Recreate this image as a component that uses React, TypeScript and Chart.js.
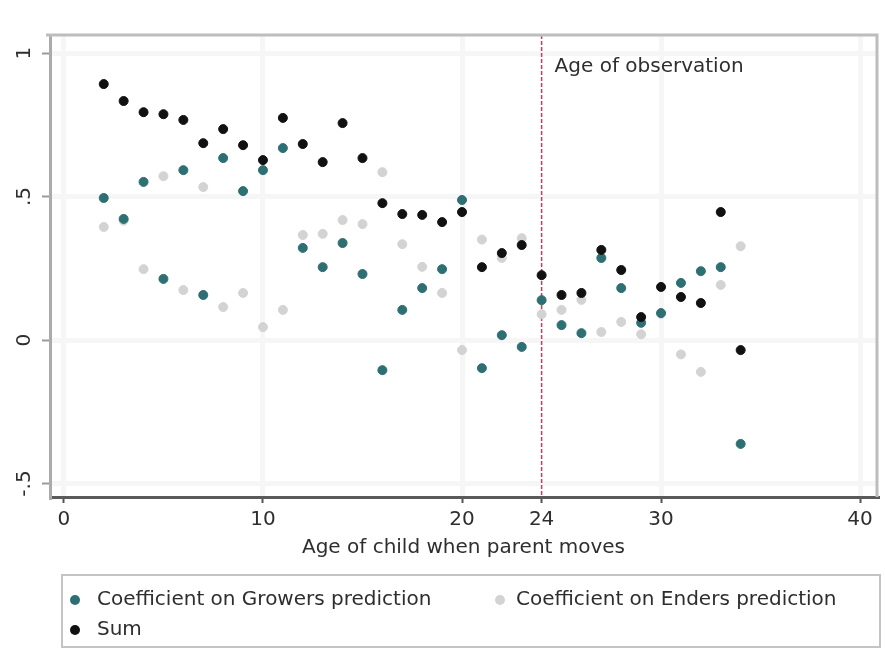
import { useEffect, useRef } from "react";
import { Chart, registerables } from "chart.js";

Chart.register(...registerables);

// Age of child (years) when the parent moves
const AGES = [
  2, 3, 4, 5, 6, 7, 8, 9, 10, 11, 12, 13, 14, 15, 16, 17, 18,
  19, 20, 21, 22, 23, 24, 25, 26, 27, 28, 29, 30, 31, 32, 33, 34,
];

// Coefficient on Growers prediction
const GROWERS = [
  0.495, 0.422, 0.551, 0.213, 0.592, 0.157, 0.634, 0.519, 0.592, 0.669, 0.321,
  0.254, 0.338, 0.23, -0.105, 0.105, 0.181, 0.247, 0.488, -0.098, 0.017, -0.024,
  0.139, 0.052, 0.024, 0.286, 0.181, 0.06, 0.094, 0.199, 0.24, 0.254, -0.362,
];

// Coefficient on Enders prediction
const ENDERS = [
  0.394, 0.416, 0.247, 0.571, 0.174, 0.533, 0.115, 0.164, 0.045, 0.105, 0.366,
  0.37, 0.418, 0.404, 0.585, 0.334, 0.255, 0.164, -0.035, 0.35, 0.286, 0.355,
  0.09, 0.105, 0.14, 0.028, 0.063, 0.02, 0.091, -0.05, -0.111, 0.192, 0.327,
];

// Sum of the two coefficients
const SUM = [
  0.892, 0.833, 0.794, 0.787, 0.767, 0.686, 0.735, 0.679, 0.627, 0.774, 0.683,
  0.62, 0.756, 0.634, 0.477, 0.439, 0.436, 0.411, 0.446, 0.254, 0.303, 0.331,
  0.226, 0.157, 0.164, 0.314, 0.244, 0.08, 0.185, 0.15, 0.129, 0.446, -0.035,
];

const X_TICKS = [0, 10, 20, 24, 30, 40];
const Y_TICKS = [-0.5, 0, 0.5, 1];
const Y_TICK_LABELS = ["-.5", "0", ".5", "1"];
const OBSERVATION_AGE = 24;
const OBSERVATION_LABEL = "Age of observation";
const X_TITLE = "Age of child when parent moves";
const SERIES_NAMES = [
  "Coefficient on Growers prediction",
  "Coefficient on Enders prediction",
  "Sum",
];

const GROWERS_COLOR = "#2d6f72";
const ENDERS_COLOR = "#d3d3d3";
const SUM_COLOR = "#111111";
const TEXT_COLOR = "#2e2e2e";
const GRID_COLOR = "#f6f6f6";
const FONT_FAMILY = "'DejaVu Sans', 'Liberation Sans', sans-serif";
const FONT_SIZE = 20;

const toPoints = (values: number[]) =>
  AGES.map((age, i) => ({ x: age, y: values[i] }));

// Frame, observation-age marker line and the boxed legend
const decorations = {
  id: "decorations",
  beforeDatasetsDraw(chart: any) {
    const { ctx, chartArea, scales } = chart;
    const x = scales.x.getPixelForValue(OBSERVATION_AGE);
    ctx.save();
    ctx.strokeStyle = "#b8435f";
    ctx.lineWidth = 1.5;
    ctx.setLineDash([4, 2]);
    ctx.beginPath();
    ctx.moveTo(x, chartArea.top);
    ctx.lineTo(x, chartArea.bottom);
    ctx.stroke();
    ctx.restore();
  },
  afterDraw(chart: any) {
    const { ctx, chartArea, scales } = chart;
    ctx.save();
    // top and right edges of the plot region
    ctx.strokeStyle = "#bdbdbd";
    ctx.lineWidth = 3;
    ctx.beginPath();
    ctx.moveTo(chartArea.left - 4, chartArea.top);
    ctx.lineTo(chartArea.right, chartArea.top);
    ctx.lineTo(chartArea.right, chartArea.bottom);
    ctx.stroke();

    // note next to the observation-age line
    const x = scales.x.getPixelForValue(OBSERVATION_AGE);
    ctx.font = `${FONT_SIZE}px ${FONT_FAMILY}`;
    ctx.fillStyle = TEXT_COLOR;
    ctx.textAlign = "left";
    ctx.textBaseline = "middle";
    ctx.fillText(OBSERVATION_LABEL, x + 13, chartArea.top + 32);

    // legend box
    const boxLeft = 62;
    const boxTop = 575;
    const boxRight = 880;
    const boxBottom = 647;
    ctx.strokeStyle = "#c4c4c4";
    ctx.lineWidth = 2;
    ctx.strokeRect(boxLeft, boxTop, boxRight - boxLeft, boxBottom - boxTop);

    const items = [
      { name: SERIES_NAMES[0], color: GROWERS_COLOR, mx: 75, tx: 97, y: 600 },
      { name: SERIES_NAMES[1], color: ENDERS_COLOR, mx: 500, tx: 516, y: 600 },
      { name: SERIES_NAMES[2], color: SUM_COLOR, mx: 75, tx: 97, y: 630 },
    ];
    for (const it of items) {
      ctx.fillStyle = it.color;
      ctx.beginPath();
      ctx.arc(it.mx, it.y, 5, 0, Math.PI * 2);
      ctx.fill();
      ctx.fillStyle = TEXT_COLOR;
      ctx.fillText(it.name, it.tx, it.y);
    }
    ctx.restore();
  },
};

export default function App() {
  const canvasRef = useRef<HTMLCanvasElement | null>(null);

  useEffect(() => {
    const canvas = canvasRef.current;
    if (!canvas) return;

    const series = (color: string, order: number, label: string, data: number[]) => ({
      label,
      data: toPoints(data),
      backgroundColor: color,
      borderColor: color,
      borderWidth: 1,
      pointRadius: 4.5,
      pointHoverRadius: 4.5,
      order,
    });

    const chart = new Chart(canvas, {
      type: "scatter",
      data: {
        datasets: [
          series(GROWERS_COLOR, 1, SERIES_NAMES[0], GROWERS),
          series(ENDERS_COLOR, 2, SERIES_NAMES[1], ENDERS),
          series(SUM_COLOR, 0, SERIES_NAMES[2], SUM),
        ],
      },
      options: {
        responsive: false,
        animation: false,
        events: [],
        layout: { padding: { left: 0, top: 35, right: 8, bottom: 90 } },
        plugins: {
          legend: { display: false },
          tooltip: { enabled: false },
        },
        scales: {
          x: {
            type: "linear",
            min: -0.7,
            max: 40.85,
            afterBuildTicks: (scale: any) => {
              scale.ticks = X_TICKS.map((v) => ({ value: v }));
            },
            afterFit: (scale: any) => {
              scale.height = 63;
            },
            ticks: {
              color: TEXT_COLOR,
              font: { family: FONT_FAMILY, size: FONT_SIZE },
              padding: 5,
              maxRotation: 0,
              autoSkip: false,
              callback: (v: any) => String(v),
            },
            grid: {
              color: (c: any) =>
                c.tick && c.tick.value === OBSERVATION_AGE ? "rgba(0,0,0,0)" : GRID_COLOR,
              lineWidth: 5,
              tickColor: "#555555",
              tickLength: 6,
              tickWidth: 2,
            },
            border: { color: "#5a5a5a", width: 3 },
            title: {
              display: true,
              text: X_TITLE,
              color: TEXT_COLOR,
              font: { family: FONT_FAMILY, size: FONT_SIZE },
              padding: { top: 0, bottom: 0 },
            },
          },
          y: {
            type: "linear",
            min: -0.547,
            max: 1.063,
            afterBuildTicks: (scale: any) => {
              scale.ticks = Y_TICKS.map((v) => ({ value: v }));
            },
            afterFit: (scale: any) => {
              scale.width = 50;
            },
            ticks: {
              color: TEXT_COLOR,
              font: { family: FONT_FAMILY, size: FONT_SIZE },
              minRotation: 90,
              maxRotation: 90,
              crossAlign: "center",
              padding: 4,
              autoSkip: false,
              callback: (v: any) => {
                const i = Y_TICKS.indexOf(Number(v));
                return i >= 0 ? Y_TICK_LABELS[i] : "";
              },
            },
            grid: {
              color: GRID_COLOR,
              lineWidth: 5,
              tickColor: "#9a9a9a",
              tickLength: 8,
              tickWidth: 2,
            },
            border: { color: "#ababab", width: 3 },
          },
        },
      },
      plugins: [decorations],
    } as any);

    return () => chart.destroy();
  }, []);

  return (
    <div style={{ position: "absolute", left: 0, top: 0, width: 885, height: 650 }}>
      <canvas ref={canvasRef} width={885} height={650} />
    </div>
  );
}
